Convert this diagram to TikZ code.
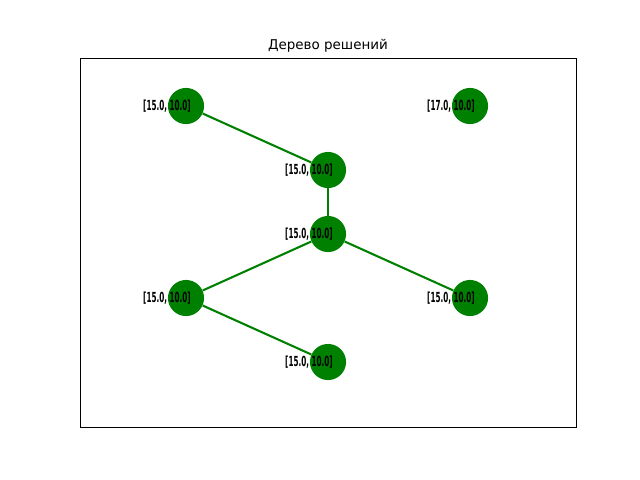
\documentclass[tikz,border=0pt]{standalone}
\usepackage{fontspec}
\setmainfont{DejaVu Sans}
\usepackage{tikz}
\usetikzlibrary{positioning}
\definecolor{nxgreen}{RGB}{0,128,0}
\newcommand{\lbl}[1]{\scalebox{0.52}[1]{\fontsize{10}{10}\selectfont\bfseries #1}}

\begin{document}
\begin{tikzpicture} [x = 0.72pt, y = -0.72pt,
    vertex/.style = {circle, fill = nxgreen, minimum size = 26pt, inner sep = 0pt},
    edge/.style = {nxgreen, line width = 1.5pt},
    tag/.style = {inner sep = 0pt, left = -3.6pt of #1}]
\useasboundingbox (0,0) rectangle (640,480);
\draw [line width = 0.6pt](80,58) rectangle (576,427);
\node (title) at (328,46) {\fontsize{9.7}{10}\selectfont Дерево решений};
% vertices
\node[vertex](a) at (186,106){};
\node[vertex](b) at (470,106){};
\node[vertex](c) at (328,170){};
\node[vertex](d) at (328,234){};
\node[vertex](e) at (186,298){};
\node[vertex](f) at (470,298){};
\node[vertex](g) at (328,362){};
\draw [edge](a) -- (c);
\draw [edge](c) -- (d);
\draw [edge](d) -- (e);
\draw [edge](d) -- (f);
\draw [edge](e) -- (g);
% labels
\node[tag = a.center](ta){\lbl{[15.0, 10.0]}};
\node[tag = b.center](tb){\lbl{[17.0, 10.0]}};
\node[tag = c.center](tc){\lbl{[15.0, 10.0]}};
\node[tag = d.center](td){\lbl{[15.0, 10.0]}};
\node[tag = e.center](te){\lbl{[15.0, 10.0]}};
\node[tag = f.center](tf){\lbl{[15.0, 10.0]}};
\node[tag = g.center](tg){\lbl{[15.0, 10.0]}};
\end{tikzpicture}
\end{document}
